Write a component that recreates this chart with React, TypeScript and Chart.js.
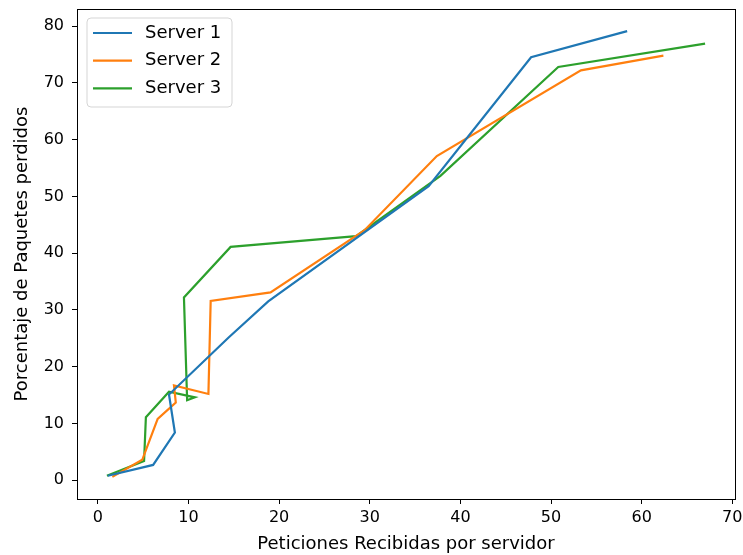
import React, { useEffect, useRef } from "react";
import { Chart, registerables } from "chart.js";

Chart.register(...registerables);

const seriesNames = ["Server 1", "Server 2", "Server 3"];
const seriesColors = ["#1f77b4", "#ff7f0e", "#2ca02c"];

const server1X = [1.1, 6.1, 8.5, 7.85, 14.4, 18.8, 36.5, 47.8, 58.4];
const server1Y = [0.8, 2.7, 8.4, 15.1, 25.1, 31.5, 51.8, 74.5, 79.1];

const server2X = [1.6, 4.9, 6.6, 8.6, 8.4, 12.2, 12.45, 19.05, 29.4, 37.4, 53.3, 62.4];
const server2Y = [0.6, 3.6, 10.8, 13.7, 16.7, 15.2, 31.6, 33.1, 44.0, 57.1, 72.2, 74.8];

const server3X = [1.0, 5.1, 5.3, 7.85, 10.7, 9.85, 9.5, 14.65, 28.5, 37.8, 50.8, 67.0];
const server3Y = [0.8, 3.4, 11.1, 15.6, 14.6, 14.1, 32.2, 41.1, 43.0, 53.6, 72.8, 76.9];

const xTicks = [0, 10, 20, 30, 40, 50, 60, 70];
const yTicks = [0, 10, 20, 30, 40, 50, 60, 70, 80];

const xTitle = "Peticiones Recibidas por servidor";
const yTitle = "Porcentaje de Paquetes perdidos";

const FONT = "'DejaVu Sans', sans-serif";

const toPoints = (xs: number[], ys: number[]) => xs.map((x, i) => ({ x, y: ys[i] }));

const framePlugin = {
  id: "frame",
  afterDatasetsDraw(chart: any) {
    const { ctx, chartArea } = chart;
    ctx.save();
    ctx.strokeStyle = "#000";
    ctx.lineWidth = 1;
    ctx.strokeRect(
      Math.round(chartArea.left) + 0.5,
      Math.round(chartArea.top) + 0.5,
      Math.round(chartArea.right - chartArea.left),
      Math.round(chartArea.bottom - chartArea.top)
    );
    ctx.restore();
  },
};

const legendPlugin = {
  id: "mplLegend",
  afterDraw(chart: any) {
    const { ctx, chartArea } = chart;
    const left = chartArea.left + 10;
    const top = chartArea.top + 9;
    const w = 145;
    const h = 89;
    const r = 4;
    ctx.save();
    ctx.beginPath();
    ctx.moveTo(left + r, top);
    ctx.lineTo(left + w - r, top);
    ctx.quadraticCurveTo(left + w, top, left + w, top + r);
    ctx.lineTo(left + w, top + h - r);
    ctx.quadraticCurveTo(left + w, top + h, left + w - r, top + h);
    ctx.lineTo(left + r, top + h);
    ctx.quadraticCurveTo(left, top + h, left, top + h - r);
    ctx.lineTo(left, top + r);
    ctx.quadraticCurveTo(left, top, left + r, top);
    ctx.closePath();
    ctx.fillStyle = "rgba(255,255,255,0.8)";
    ctx.fill();
    ctx.strokeStyle = "#d5d5d5";
    ctx.lineWidth = 1;
    ctx.stroke();
    ctx.font = `18px ${FONT}`;
    ctx.textBaseline = "middle";
    ctx.textAlign = "left";
    seriesNames.forEach((name, i) => {
      const y = top + 15 + i * 27.7;
      ctx.strokeStyle = seriesColors[i];
      ctx.lineWidth = 2.2;
      ctx.beginPath();
      ctx.moveTo(left + 6, y);
      ctx.lineTo(left + 45, y);
      ctx.stroke();
      ctx.fillStyle = "#000";
      ctx.fillText(name, left + 58, y);
    });
    ctx.restore();
  },
};

export default function App() {
  const canvasRef = useRef<HTMLCanvasElement | null>(null);

  useEffect(() => {
    document.body.style.margin = "0";
    const canvas = canvasRef.current;
    if (!canvas) return;
    const datasets = [
      toPoints(server1X, server1Y),
      toPoints(server2X, server2Y),
      toPoints(server3X, server3Y),
    ].map((data, i) => ({
      label: seriesNames[i],
      data,
      showLine: true,
      borderColor: seriesColors[i],
      backgroundColor: seriesColors[i],
      borderWidth: 2.2,
      pointRadius: 0,
      pointHoverRadius: 0,
      tension: 0,
      fill: false,
    }));

    const chart = new Chart(canvas, {
      type: "scatter",
      data: { datasets },
      options: {
        animation: false,
        responsive: false,
        maintainAspectRatio: false,
        layout: { padding: { top: 9, right: 8, left: 0, bottom: 0 } },
        plugins: {
          legend: { display: false },
          tooltip: { enabled: false },
        },
        scales: {
          x: {
            type: "linear",
            min: -2.3,
            max: 70.3,
            afterBuildTicks: (scale: any) => {
              scale.ticks = xTicks.map((v) => ({ value: v }));
            },
            afterFit: (scale: any) => {
              scale.height = 56;
              scale.paddingLeft = 0;
              scale.paddingRight = 0;
            },
            grid: {
              display: true,
              drawOnChartArea: false,
              drawTicks: true,
              tickLength: 5,
              color: "#000",
              lineWidth: 1,
            },
            border: { display: true, color: "#000", width: 1 },
            ticks: {
              color: "#000",
              font: { family: FONT, size: 16 },
              padding: 4,
              maxRotation: 0,
              autoSkip: false,
            },
            title: {
              display: true,
              text: xTitle,
              color: "#000",
              font: { family: FONT, size: 18 },
              padding: { top: 0, bottom: 0 },
            },
          },
          y: {
            type: "linear",
            min: -3.3,
            max: 83.0,
            afterBuildTicks: (scale: any) => {
              scale.ticks = yTicks.map((v) => ({ value: v }));
            },
            afterFit: (scale: any) => {
              scale.width = 77;
              scale.paddingTop = 0;
              scale.paddingBottom = 0;
            },
            grid: {
              display: true,
              drawOnChartArea: false,
              drawTicks: true,
              tickLength: 5,
              color: "#000",
              lineWidth: 1,
            },
            border: { display: true, color: "#000", width: 1 },
            ticks: {
              color: "#000",
              font: { family: FONT, size: 16 },
              padding: 8,
              autoSkip: false,
            },
            title: {
              display: true,
              text: yTitle,
              color: "#000",
              font: { family: FONT, size: 18 },
              padding: { top: 12, bottom: 0 },
            },
          },
        },
      },
      plugins: [framePlugin, legendPlugin],
    });

    return () => {
      chart.destroy();
    };
  }, []);

  return (
    <div style={{ width: 743, height: 555, position: "relative" }}>
      <canvas ref={canvasRef} width={743} height={555} style={{ display: "block" }} />
    </div>
  );
}
